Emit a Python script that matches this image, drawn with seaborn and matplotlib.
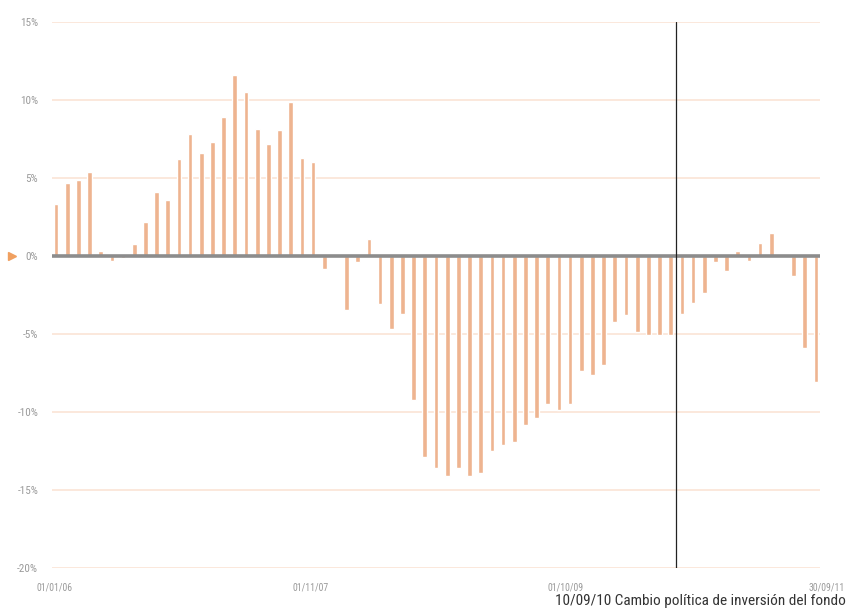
import numpy as np
import pandas as pd
import matplotlib
matplotlib.use("Agg")
import matplotlib.pyplot as plt
import seaborn as sns
from matplotlib import font_manager

# Monthly relative returns (%), January 2006 to September 2011
months = pd.date_range("2006-01-01", periods=69, freq="MS").strftime("%m/%y").tolist()
returns = [
    3.35, 4.7, 4.9, 5.4, 0.35, -0.3, -0.1, 0.75, 2.2, 4.1,
    3.6, 6.2, 7.8, 6.6, 7.3, 8.9, 11.6, 10.5, 8.15, 7.2,
    8.1, 9.9, 6.3, 6.0, -0.85, 0.0, -3.45, -0.4, 1.1, -3.1,
    -4.7, -3.7, -9.2, -12.9, -13.6, -14.1, -13.6, -14.1, -13.9, -12.5,
    -12.1, -11.9, -10.85, -10.4, -9.5, -9.9, -9.5, -7.4, -7.6, -7.0,
    -4.25, -3.75, -4.85, -5.05, -5.05, -5.05, -3.7, -3.0, -2.4, -0.4,
    -0.95, 0.3, -0.3, 0.85, 1.45, 0.0, -1.3, -5.9, -8.1,
]
y_ticks = [15, 10, 5, 0, -5, -10, -15, -20]
y_tick_labels = ["15%", "10%", "5%", "0%", "-5%", "-10%", "-15%", "-20%"]
date_labels = ["01/01/06", "01/11/07", "01/10/09", "30/09/11"]
date_label_pos = [-0.1, 22.8, 45.6, 69.0]
policy_change_pos = 55.45
policy_change_text = "10/09/10 Cambio política de inversión del fondo"

df = pd.DataFrame({"mes": months, "rentabilidad": returns})

sns.set_theme(style="white")
installed = {f.name for f in font_manager.fontManager.ttflist}
narrow = next((f for f in ["Liberation Sans Narrow", "Roboto Condensed", "Open Sans Condensed",
                           "DejaVu Sans Condensed"] if f in installed), "DejaVu Sans")
plt.rcParams["font.family"] = [narrow, "DejaVu Sans"]

bar_color = "#EEB490"
grid_color = "#FBE4D5"
label_color = "#9A9A9A"

fig = plt.figure(figsize=(8.47, 6.12), dpi=100)
ax = fig.add_axes([52 / 847, 44 / 612, 768 / 847, 546 / 612])

for yv in y_ticks:
    if yv != 0:
        ax.axhline(yv, color=grid_color, lw=1.2, zorder=0)

sns.barplot(data=df, x="mes", y="rentabilidad", color=bar_color, width=0.42,
            saturation=1, ax=ax, zorder=2)

ax.axhline(0, color="#8C8C8C", lw=2.6, zorder=3)
ax.axvline(policy_change_pos, color="#222222", lw=0.9, zorder=4)

ax.set_xlim(-0.36, 68.36)
ax.set_ylim(-20, 15)
ax.set_yticks(y_ticks)
ax.set_yticklabels(y_tick_labels, color=label_color, fontsize=8)
ax.tick_params(axis="y", length=0, pad=10)
ax.set_xticks([])
ax.set_xlabel("")
ax.set_ylabel("")
for s in ax.spines.values():
    s.set_visible(False)

for pos, lab in zip(date_label_pos, date_labels):
    ax.text(pos, -20.9, lab, ha="center", va="top", fontsize=7, color=label_color,
            clip_on=False)

# orange pointer next to the 0% label
ax.plot([-0.052], [0], marker=">", color="#F0A060", markersize=6,
        transform=ax.get_yaxis_transform(), clip_on=False, zorder=5)

fig.text(0.999, 0.006, policy_change_text, ha="right", va="bottom", fontsize=11,
         color="#333333")

fig.savefig("out.png", dpi=100, facecolor="white")
